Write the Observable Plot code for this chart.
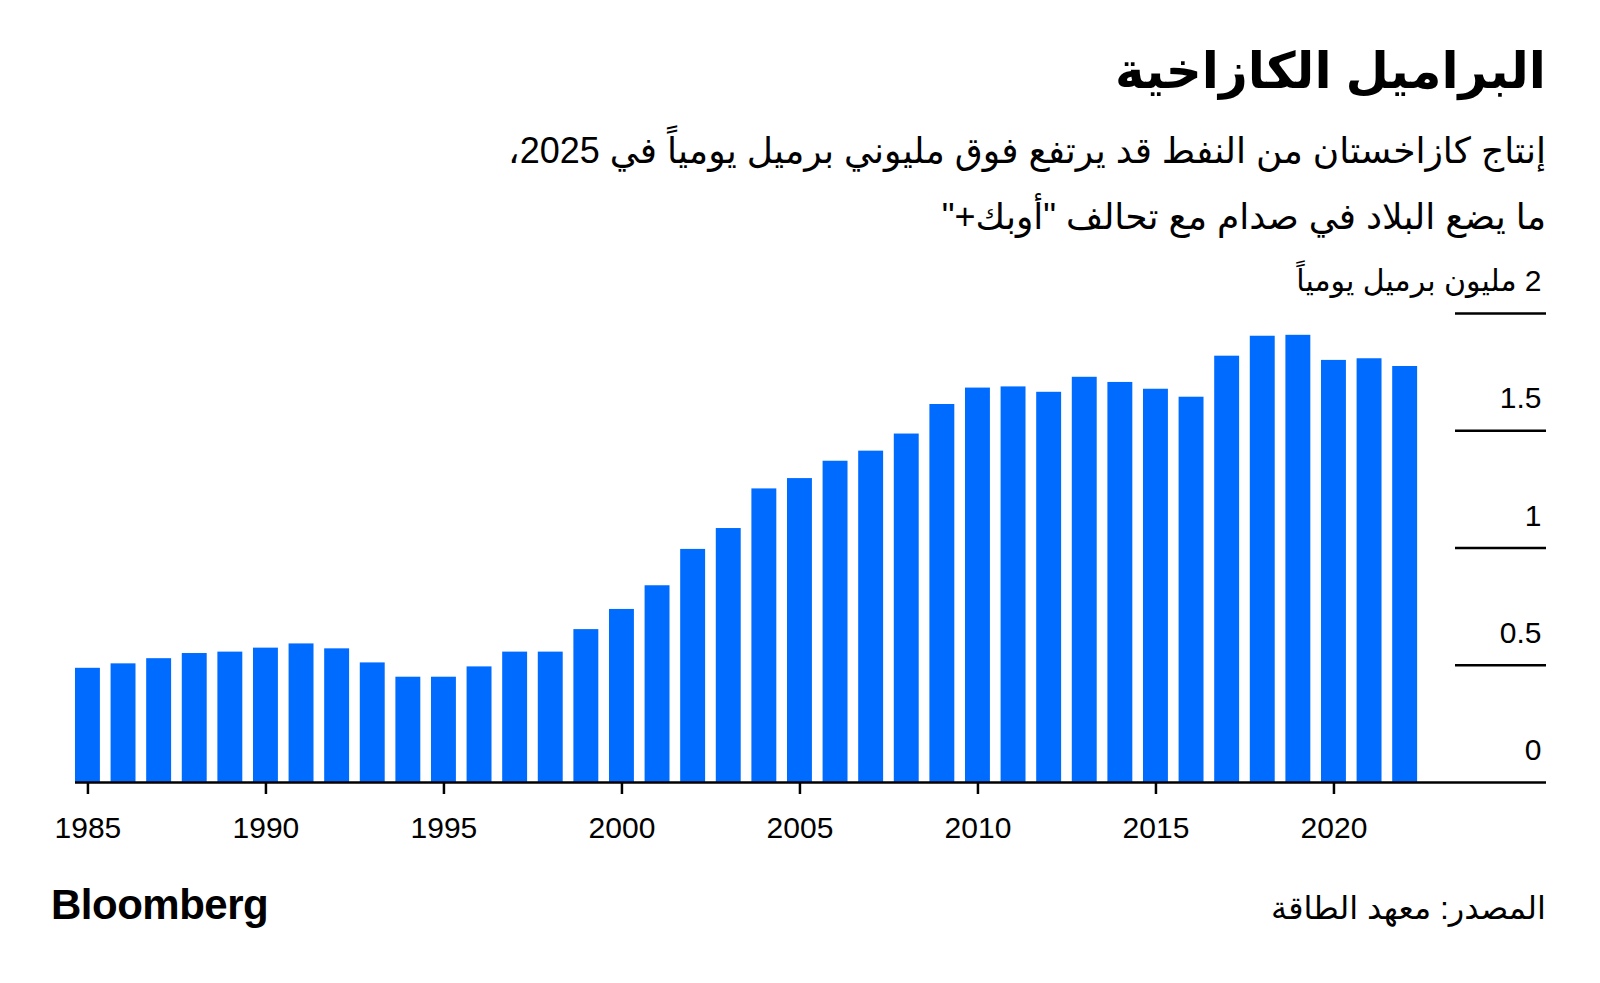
<!DOCTYPE html>
<html>
<head>
<meta charset="utf-8">
<script src="https://cdn.jsdelivr.net/npm/d3@7"></script>
<script src="https://cdn.jsdelivr.net/npm/@observablehq/plot@0.6"></script>
<style>
  body { margin: 0; background: #fff; }
  #root { position: relative; width: 1600px; height: 983px; font-family: "Liberation Sans", "DejaVu Sans", sans-serif; color: #000; background: #fff; }
  .rtl { position: absolute; right: 54px; direction: rtl; text-align: right; white-space: nowrap; }
  #title { top: 41px; font-size: 50px; font-weight: bold; line-height: 60px; }
  #sub { top: 118px; font-size: 36px; line-height: 66px; }
  #chart { position: absolute; left: 0; top: 250px; }
  #logo { position: absolute; left: 51px; top: 882px; font-size: 42px; font-weight: bold; letter-spacing: -0.5px; line-height: 46px; }
  #source { top: 886px; font-size: 32px; line-height: 44px; }
</style>
</head>
<body>
<div id="root">
  <div id="title" class="rtl"></div>
  <div id="sub" class="rtl"></div>
  <div id="chart"></div>
  <div id="logo">Bloomberg</div>
  <div id="source" class="rtl"></div>
</div>
<script>
// ---- Data ----
const years = [1985, 1986, 1987, 1988, 1989, 1990, 1991, 1992, 1993, 1994,
               1995, 1996, 1997, 1998, 1999, 2000, 2001, 2002, 2003, 2004,
               2005, 2006, 2007, 2008, 2009, 2010, 2011, 2012, 2013, 2014,
               2015, 2016, 2017, 2018, 2019, 2020, 2021, 2022];
const output = [0.487, 0.506, 0.528, 0.550, 0.556, 0.573, 0.591, 0.570, 0.510, 0.449,
                0.449, 0.493, 0.556, 0.556, 0.652, 0.738, 0.839, 0.994, 1.083, 1.252,
                1.296, 1.370, 1.413, 1.486, 1.612, 1.682, 1.687, 1.664, 1.728, 1.706,
                1.677, 1.643, 1.818, 1.903, 1.907, 1.800, 1.807, 1.774];
const xTicks = [1985, 1990, 1995, 2000, 2005, 2010, 2015, 2020];
const yTicks = [0, 0.5, 1, 1.5, 2];
const unitLabel = "مليون برميل يومياً";
const titleText = "البراميل الكازاخية";
const subtitleLines = [
  "إنتاج كازاخستان من النفط قد يرتفع فوق مليوني برميل يومياً في 2025،",
  "ما يضع البلاد في صدام مع تحالف \"أوبك+\""
];
const sourceText = "المصدر: معهد الطاقة";

document.getElementById("title").textContent = titleText;
document.getElementById("sub").innerHTML = subtitleLines.map(s => `<div>${s}</div>`).join("");
document.getElementById("source").textContent = sourceText;

const data = years.map((year, i) => ({year, value: output[i]}));
const font = "'Liberation Sans', 'DejaVu Sans', sans-serif";

const chart = Plot.plot({
  width: 1600,
  height: 600,
  marginTop: 63,
  marginBottom: 68,
  marginLeft: 75,
  marginRight: 54,
  style: {fontFamily: font, fontSize: "30px", color: "#000", background: "transparent", overflow: "visible"},
  x: {type: "band", domain: years, range: [64.3, 1427.8], padding: 0.3, round: false, label: null},
  y: {domain: [0, 2], label: null},
  marks: [
    Plot.barY(data, {x: "year", y: "value", fill: "#006cff"}),
    Plot.ruleY(yTicks.filter(d => d > 0), {insetLeft: 1380, stroke: "#000", strokeWidth: 2.5}),
    Plot.ruleY([0], {stroke: "#000", strokeWidth: 2.5}),
    Plot.axisX({ticks: xTicks, tickSize: 12, tickPadding: 22, strokeWidth: 2.5, fontSize: 30, fill: "#000", label: null, tickFormat: d => String(d)}),
    Plot.axisY({anchor: "right", ticks: yTicks, tickSize: 0, tickPadding: 0, textAnchor: "end", dx: -5, dy: -32, fontSize: 30, fill: "#000", label: null,
      tickFormat: d => d === 2 ? "\u202B2 " + unitLabel + "\u202C" : String(d)})
  ]
});
document.getElementById("chart").appendChild(chart);
</script>
</body>
</html>
